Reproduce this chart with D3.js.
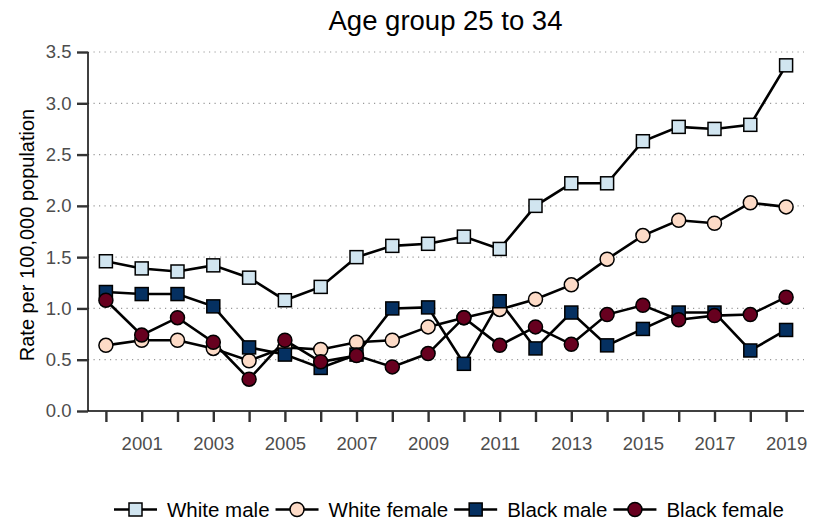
<!DOCTYPE html>
<html>
<head>
<meta charset="utf-8">
<script src="https://cdn.jsdelivr.net/npm/d3@7"></script>
<style>
  body { margin: 0; background: #fff; }
  svg { font-family: "Liberation Sans", Arial, sans-serif; }
</style>
</head>
<body>
<div id="chart"></div>
<script>
// data
var years = d3.range(2000, 2020);
var whiteMale   = [1.46, 1.39, 1.36, 1.42, 1.30, 1.08, 1.21, 1.50, 1.61, 1.63, 1.70, 1.58, 2.00, 2.22, 2.22, 2.63, 2.77, 2.75, 2.79, 3.37];
var whiteFemale = [0.64, 0.69, 0.69, 0.61, 0.49, 0.62, 0.60, 0.67, 0.69, 0.82, 0.91, 0.99, 1.09, 1.23, 1.48, 1.71, 1.86, 1.83, 2.03, 1.99];
var blackMale   = [1.16, 1.14, 1.14, 1.02, 0.62, 0.55, 0.42, 0.55, 1.00, 1.01, 0.46, 1.07, 0.61, 0.96, 0.64, 0.80, 0.96, 0.96, 0.59, 0.79];
var blackFemale = [1.08, 0.74, 0.91, 0.67, 0.31, 0.69, 0.48, 0.54, 0.43, 0.56, 0.91, 0.64, 0.82, 0.65, 0.94, 1.03, 0.89, 0.93, 0.94, 1.11];
var yTicks = [0, 0.5, 1, 1.5, 2, 2.5, 3, 3.5];
var xLabels = [2001, 2003, 2005, 2007, 2009, 2011, 2013, 2015, 2017, 2019];

var series = [
  { name: "White male",   values: whiteMale,   shape: "square", fill: "#d1e5f0" },
  { name: "White female", values: whiteFemale, shape: "circle", fill: "#fddbc7" },
  { name: "Black male",   values: blackMale,   shape: "square", fill: "#053061" },
  { name: "Black female", values: blackFemale, shape: "circle", fill: "#67001f" }
];

var svgWidth = 819, svgHeight = 524;
var margin = { top: 52, right: 15, bottom: 113, left: 88 };
var width = svgWidth - margin.left - margin.right;
var height = svgHeight - margin.top - margin.bottom;

var svg = d3.select("#chart").append("svg")
  .attr("width", svgWidth)
  .attr("height", svgHeight);

var g = svg.append("g")
  .attr("transform", `translate(${margin.left}, ${margin.top})`);

var x = d3.scaleLinear().domain([1999.5, 2019.5]).range([0, width]);
var y = d3.scaleLinear().domain([0, 3.5]).range([height, 0]);

// grid
g.selectAll("line.grid")
  .data(yTicks.slice(1))
  .enter().append("line")
  .attr("class", "grid")
  .attr("x1", 0).attr("x2", width)
  .attr("y1", d => y(d)).attr("y2", d => y(d))
  .attr("stroke", "#999")
  .attr("stroke-width", 1.2)
  .attr("stroke-dasharray", "1.2,4.3");

// axes
var yAxis = d3.axisLeft(y).tickValues(yTicks).tickFormat(d3.format(".1f")).tickSize(11).tickPadding(5.5);
var xAxis = d3.axisBottom(x).tickValues(years).tickSize(11).tickPadding(14.5)
  .tickFormat(d => xLabels.indexOf(d) >= 0 ? d : "");

var gy = g.append("g").call(yAxis);
var gx = g.append("g").attr("transform", `translate(0, ${height})`).call(xAxis);

[gx, gy].forEach(function(a) {
  a.select(".domain").attr("stroke", "#000").attr("stroke-width", 1.5);
  a.selectAll(".tick line").attr("stroke", "#333").attr("stroke-width", 2.4);
  a.selectAll(".tick text").attr("fill", "#4d4d4d").style("font-size", "18.5px")
    .style("font-family", "Liberation Sans, Arial, sans-serif");
});
gx.select(".domain").attr("d", `M0,0H${width}`);
gy.select(".domain").attr("d", `M0,${height}V0`);

// lines
var line = d3.line()
  .x((d, i) => x(years[i]))
  .y(d => y(d));

series.forEach(function(s) {
  g.append("path")
    .datum(s.values)
    .attr("fill", "none")
    .attr("stroke", "#000")
    .attr("stroke-width", 2.6)
    .attr("d", line);
});

function drawMarker(sel, s, cx, cy) {
  if (s.shape === "square") {
    sel.append("rect")
      .attr("x", cx - 6.5).attr("y", cy - 6.5)
      .attr("width", 13).attr("height", 13)
      .attr("fill", s.fill).attr("stroke", "#000").attr("stroke-width", 1.5);
  } else {
    sel.append("circle")
      .attr("cx", cx).attr("cy", cy).attr("r", 7)
      .attr("fill", s.fill).attr("stroke", "#000").attr("stroke-width", 1.5);
  }
}

series.forEach(function(s) {
  var mg = g.append("g");
  s.values.forEach(function(v, i) {
    drawMarker(mg, s, x(years[i]), y(v));
  });
});

// title
svg.append("text")
  .attr("x", 445.5).attr("y", 30)
  .attr("text-anchor", "middle")
  .style("font-size", "27.5px")
  .attr("fill", "#000")
  .text("Age group 25 to 34");

// y label
svg.append("text")
  .attr("transform", "translate(34, 235) rotate(-90)")
  .attr("text-anchor", "middle")
  .style("font-size", "20px")
  .attr("fill", "#000")
  .text("Rate per 100,000 population");

// legend
var legend = svg.append("g").attr("transform", "translate(114, 509.5)");
var lx = 0;
series.forEach(function(s, i) {
  var lg = legend.append("g").attr("transform", `translate(${lx}, 0)`);
  lg.append("line").attr("x1", 0).attr("x2", 43).attr("y1", 0).attr("y2", 0)
    .attr("stroke", "#000").attr("stroke-width", 2.6);
  drawMarker(lg, s, 21.5, 0);
  var t = lg.append("text").attr("x", 53).attr("y", 7)
    .style("font-size", "20.5px").attr("fill", "#000")
    .text(s.name);
  lx += 53 + t.node().getComputedTextLength() + 6;
});
</script>
</body>
</html>
